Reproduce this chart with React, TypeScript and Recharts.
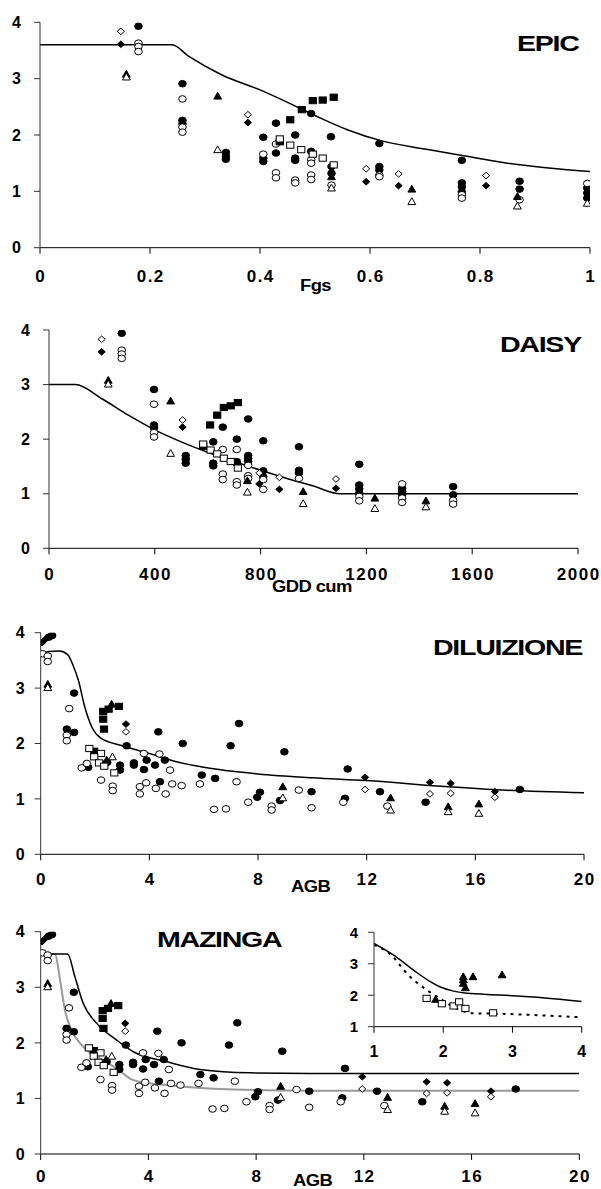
import React from "react";
import { ComposedChart, Scatter, Line, XAxis, YAxis } from "recharts";

type Pt = [number, number];

//========== EPIC (x = Fgs) ==========
const epicFilledCircle: Pt[] = [[0.179,3.93],[0.259,2.91],[0.259,2.26],[0.259,2.2],[0.338,1.69],[0.338,1.62],[0.338,1.57],[0.406,1.96],[0.406,1.59],[0.406,1.53],[0.429,2.21],[0.429,1.68],[0.464,2.0],[0.464,1.59],[0.464,1.55],[0.493,2.38],[0.493,1.71],[0.529,1.97],[0.53,1.44],[0.53,1.32],[0.617,1.85],[0.617,1.44],[0.617,1.38],[0.767,1.55],[0.767,1.15],[0.767,1.08],[0.767,0.99],[0.872,1.18],[0.872,1.04],[0.995,1.06],[0.995,0.97],[0.995,0.88]];
const epicOpenCircle: Pt[] = [[0.179,3.63],[0.179,3.57],[0.179,3.48],[0.259,2.64],[0.259,2.14],[0.259,2.05],[0.406,1.66],[0.429,1.84],[0.429,1.33],[0.429,1.24],[0.464,1.2],[0.464,1.15],[0.493,1.56],[0.493,1.5],[0.493,1.29],[0.493,1.21],[0.53,1.11],[0.617,1.29],[0.617,1.26],[0.767,0.94],[0.767,0.88],[0.872,0.85],[0.995,1.14]];
const epicFilledDiamond: Pt[] = [[0.147,3.61],[0.378,2.22],[0.593,1.17],[0.652,1.1],[0.811,1.1]];
const epicOpenDiamond: Pt[] = [[0.147,3.84],[0.378,2.36],[0.593,1.4],[0.652,1.31],[0.811,1.28]];
const epicFilledTriangle: Pt[] = [[0.157,3.08],[0.323,2.69],[0.53,1.26],[0.676,1.04],[0.868,0.91],[0.995,0.92]];
const epicOpenTriangle: Pt[] = [[0.157,3.03],[0.323,1.74],[0.53,1.06],[0.676,0.82],[0.868,0.74],[0.995,0.79]];
const epicFilledSquare: Pt[] = [[0.455,2.27],[0.436,1.88],[0.476,2.45],[0.496,2.61],[0.514,2.62],[0.534,2.67]];
const epicOpenSquare: Pt[] = [[0.436,1.93],[0.455,1.82],[0.475,1.74],[0.496,1.66],[0.514,1.59],[0.534,1.47]];
const epicCurve: Pt[] = [[0,3.6],[0.24,3.6],[0.27,3.4],[0.33,3.07],[0.4,2.8],[0.45,2.58],[0.51,2.3],[0.56,2.09],[0.62,1.9],[0.7,1.75],[0.77,1.63],[0.85,1.5],[0.92,1.42],[1.0,1.35]];
const epicXTicks = [0, 0.2, 0.4, 0.6, 0.8, 1];

//========== DAISY (x = GDD cum) ==========
const daisyFilledCircle: Pt[] = [[275,3.94],[397,2.91],[397,2.26],[397,2.21],[517,1.7],[517,1.63],[517,1.56],[621,1.95],[621,1.56],[621,1.51],[657,2.22],[710,2.0],[710,1.59],[710,1.55],[753,2.37],[753,1.7],[753,1.64],[753,1.59],[810,1.97],[810,1.42],[810,1.31],[945,1.86],[945,1.43],[945,1.38],[1173,1.54],[1173,1.16],[1173,1.09],[1173,1.01],[1335,1.1],[1335,1.04],[1335,0.98],[1528,1.13],[1528,0.98]];
const daisyOpenCircle: Pt[] = [[275,3.63],[275,3.56],[275,3.48],[397,2.64],[397,2.12],[397,2.04],[657,1.81],[710,1.81],[753,1.52],[657,1.36],[657,1.26],[710,1.22],[710,1.16],[753,1.33],[753,1.28],[810,1.26],[810,1.08],[945,1.28],[1173,0.95],[1173,0.87],[1335,1.18],[1335,0.92],[1335,0.84],[1528,0.88],[1528,0.81]];
const daisyFilledDiamond: Pt[] = [[199,3.6],[505,2.22],[795,1.18],[871,1.08],[1085,1.1]];
const daisyOpenDiamond: Pt[] = [[199,3.83],[505,2.35],[795,1.38],[871,1.3],[1085,1.27]];
const daisyFilledTriangle: Pt[] = [[224,3.08],[460,2.7],[750,1.24],[961,1.04],[1232,0.92],[1425,0.87]];
const daisyOpenTriangle: Pt[] = [[224,3.01],[460,1.74],[750,1.03],[961,0.82],[1232,0.73],[1425,0.76]];
const daisyFilledSquare: Pt[] = [[583,1.87],[609,2.26],[636,2.44],[661,2.58],[687,2.61],[714,2.67]];
const daisyOpenSquare: Pt[] = [[583,1.91],[611,1.8],[636,1.73],[661,1.65],[687,1.59],[714,1.47]];
const daisyCurve: Pt[] = [[0,3.0],[100,3.0],[200,2.74],[300,2.44],[400,2.17],[500,1.95],[600,1.76],[700,1.59],[800,1.43],[900,1.28],[1000,1.14],[1100,1.0],[2000,1.0]];
const daisyXTicks = [0, 400, 800, 1200, 1600, 2000];

//========== AGB data (DILUIZIONE and MAZINGA) ==========
const agbFilledCircle: Pt[] = [[0.3,3.92],[0.42,3.95],[1.23,2.91],[0.96,2.26],[1.23,2.2],[3.16,1.96],[4.33,2.21],[5.23,2.0],[6.99,1.96],[7.3,2.36],[8.97,1.85],[1.75,1.57],[2.45,1.66],[2.92,1.61],[2.92,1.52],[3.43,1.65],[3.43,1.61],[3.8,1.53],[3.9,1.7],[4.21,1.61],[4.57,1.7],[4.39,1.31],[5.93,1.43],[6.42,1.37],[8.07,1.12],[7.97,1.03],[8.81,0.97],[9.97,1.13],[11.3,1.54],[11.2,1.01],[12.49,1.13],[14.17,0.94],[17.64,1.17]];
const agbOpenCircle: Pt[] = [[0.07,3.62],[0.26,3.58],[0.26,3.48],[1.05,2.63],[0.96,2.15],[0.96,2.05],[1.51,1.56],[1.7,1.64],[2.22,1.34],[2.65,1.23],[2.65,1.15],[3.8,1.82],[4.37,1.81],[3.65,1.22],[3.65,1.09],[3.88,1.29],[4.24,1.19],[4.6,1.09],[4.76,1.52],[4.84,1.27],[5.19,1.24],[5.86,1.27],[6.38,0.81],[6.82,0.82],[7.21,1.31],[7.64,0.94],[8.5,0.87],[8.5,0.8],[9.5,1.16],[9.97,0.84],[11.14,0.94],[12.76,0.87]];
const agbFilledDiamond: Pt[] = [[0.05,3.82],[0.15,3.87],[3.14,2.35],[11.94,1.39],[14.33,1.3],[15.09,1.28],[16.72,1.13]];
const agbOpenDiamond: Pt[] = [[3.14,2.21],[11.94,1.17],[14.33,1.09],[15.09,1.1],[16.72,1.03]];
const agbFilledTriangle: Pt[] = [[0.26,3.07],[2.61,2.71],[2.43,1.7],[8.91,1.22],[12.88,1.02],[15.0,0.86],[16.13,0.91]];
const agbOpenTriangle: Pt[] = [[0.26,3.01],[2.64,1.76],[8.91,1.02],[12.88,0.8],[15.0,0.77],[16.13,0.74]];
const agbFilledSquare: Pt[] = [[2.33,2.26],[1.97,1.86],[2.3,2.44],[2.3,2.58],[2.5,2.62],[2.88,2.67]];
const agbOpenSquare: Pt[] = [[1.79,1.91],[2.22,1.82],[1.97,1.76],[2.15,1.65],[2.34,1.59],[2.71,1.47]];
const agbXTicks = [0, 4, 8, 12, 16, 20];

const diluizioneCurve: Pt[] = [[0,3.62],[0.3,3.66],[0.7,3.67],[1.0,3.6],[1.2,3.4],[1.4,3.12],[1.6,2.7],[1.9,2.28],[2.2,2.1],[3,1.96],[4,1.82],[5,1.67],[6,1.57],[8,1.45],[10,1.38],[12,1.33],[15,1.22],[17,1.16],[20,1.11]];
const mazingaBlack: Pt[] = [[0,3.6],[1.0,3.6],[1.27,3.19],[1.58,2.71],[2.08,2.35],[2.82,2.05],[3.44,1.84],[4.68,1.66],[5.92,1.52],[7.77,1.46],[10,1.45],[20,1.45]];
const mazingaGray: Pt[] = [[0,3.6],[0.53,3.6],[0.72,3.13],[0.9,2.59],[1.15,2.23],[1.58,1.93],[2.2,1.72],[2.82,1.54],[3.44,1.33],[4.68,1.24],[7.15,1.16],[10,1.14],[20,1.14]];

//========== Inset ==========
const insetTriangle: Pt[] = [[2.29,2.59],[2.29,2.49],[2.29,2.38],[2.32,2.24],[2.43,2.59],[2.85,2.65],[1.89,1.87]];
const insetSquare: Pt[] = [[1.76,1.9],[1.98,1.73],[2.15,1.66],[2.23,1.79],[2.32,1.58],[2.72,1.44]];
const insetSolid: Pt[] = [[1,3.65],[1.28,3.28],[1.57,2.8],[1.8,2.45],[1.95,2.27],[2.15,2.13],[2.34,2.06],[2.82,2.01],[3.3,1.94],[4,1.8]];
const insetDashed: Pt[] = [[1,3.6],[1.21,3.35],[1.52,2.59],[1.76,2.17],[1.95,1.9],[2.19,1.58],[2.43,1.43],[2.82,1.41],[4,1.3]];
const insetXTicks = [1, 2, 3, 4];
const insetYTicks = [1, 2, 3, 4];

const yTicks = [0, 1, 2, 3, 4];
const FONT = "'Liberation Sans', Arial, sans-serif";

const toXY = (a: Pt[]) => a.map(([x, y]) => ({ x, y }));

//========== Markers ==========
const marker = (kind: string, filled: boolean) => (p: any) => {
  const { cx, cy } = p;
  if (cx == null || cy == null) return <g />;
  const fill = filled ? "#000" : "#fff";
  if (kind === "circle")
    return <ellipse cx={cx} cy={cy} rx={3.8} ry={3.3} fill={fill} stroke="#000" strokeWidth={1} />;
  if (kind === "diamond")
    return <polygon points={`${cx},${cy - 3.3} ${cx + 3.6},${cy} ${cx},${cy + 3.3} ${cx - 3.6},${cy}`} fill={fill} stroke="#000" strokeWidth={1} />;
  if (kind === "triangle")
    return <polygon points={`${cx},${cy - 3.8} ${cx + 3.9},${cy + 3} ${cx - 3.9},${cy + 3}`} fill={fill} stroke="#000" strokeWidth={1} />;
  return <rect x={cx - 3.6} y={cy - 3.1} width={7.2} height={6.2} fill={fill} stroke="#000" strokeWidth={1} />;
};

interface SeriesSet {
  fc: Pt[]; oc: Pt[]; fd: Pt[]; od: Pt[]; ft: Pt[]; ot: Pt[]; fs: Pt[]; os: Pt[];
}

interface Curve { pts: Pt[]; color: string; width: number; dash?: string }

interface PanelProps {
  top: number; left: number; width: number; height: number;
  margin: { top: number; right: number; bottom: number; left: number };
  xDomain: [number, number]; xTicks: number[];
  yDomain: [number, number]; yTicks: number[];
  series?: SeriesSet; extra?: { pts: Pt[]; kind: string; filled: boolean }[];
  curves: Curve[];
  xDy: number; yGap: number; tickFs: number;
}

//========== Panel ==========
const Panel: React.FC<PanelProps> = (p) => {
  const xTick = (t: any) => (
    <text x={t.x + 0.75} y={t.y + p.xDy} textAnchor="middle" fontFamily={FONT} fontWeight="bold"
      fontSize={p.tickFs + 1} letterSpacing={1.5} fill="#000">{t.payload.value}</text>
  );
  const yTick = (t: any) => (
    <text x={t.x} y={t.y + p.tickFs * 0.36} textAnchor="end" fontFamily={FONT} fontWeight="bold"
      fontSize={p.tickFs} fill="#000">{t.payload.value}</text>
  );
  const s = p.series;
  const groups = s
    ? [
        { d: s.fc, k: "circle", f: true }, { d: s.oc, k: "circle", f: false },
        { d: s.fd, k: "diamond", f: true }, { d: s.od, k: "diamond", f: false },
        { d: s.ft, k: "triangle", f: true }, { d: s.ot, k: "triangle", f: false },
        { d: s.fs, k: "square", f: true }, { d: s.os, k: "square", f: false },
      ]
    : [];
  const extras = (p.extra || []).map((e) => ({ d: e.pts, k: e.kind, f: e.filled }));
  return (
    <div style={{ position: "absolute", top: p.top, left: p.left }}>
      <ComposedChart width={p.width} height={p.height} margin={p.margin}>
        <XAxis type="number" dataKey="x" domain={p.xDomain} ticks={p.xTicks} interval={0}
          axisLine={{ stroke: "#000" }} tickLine={{ stroke: "#000" }} tickSize={6} tickMargin={2}
          height={30} tick={xTick} allowDataOverflow />
        <YAxis type="number" dataKey="y" domain={p.yDomain} ticks={p.yTicks} interval={0}
          axisLine={{ stroke: "#333" }} tickLine={{ stroke: "#333" }} tickSize={6} tickMargin={p.yGap - 6}
          width={30} tick={yTick} allowDataOverflow />
        {p.curves.map((c, i) => (
          <Line key={"c" + i} data={toXY(c.pts)} dataKey="y" type="monotone" stroke={c.color}
            strokeWidth={c.width} strokeDasharray={c.dash} dot={false} isAnimationActive={false} />
        ))}
        {[...groups, ...extras].map((g, i) => (
          <Scatter key={"s" + i} data={toXY(g.d)} shape={marker(g.k, g.f)} isAnimationActive={false} />
        ))}
      </ComposedChart>
    </div>
  );
};

const titleStyle = (top: number, left: number): React.CSSProperties => ({
  position: "absolute", top, left, fontFamily: FONT, fontWeight: "bold", fontSize: 22,
  lineHeight: "22px", letterSpacing: -1, transform: "scaleX(1.3)", transformOrigin: "left top",
  color: "#000", whiteSpace: "nowrap",
});
const axisTitleStyle = (top: number, left: number): React.CSSProperties => ({
  position: "absolute", top, left, fontFamily: FONT, fontWeight: "bold", fontSize: 16,
  lineHeight: "16px", letterSpacing: -0.5, transform: "scaleX(1.15)", transformOrigin: "left top",
  color: "#000", whiteSpace: "nowrap",
});

//========== App ==========
const App: React.FC = () => {
  const epic: SeriesSet = { fc: epicFilledCircle, oc: epicOpenCircle, fd: epicFilledDiamond, od: epicOpenDiamond, ft: epicFilledTriangle, ot: epicOpenTriangle, fs: epicFilledSquare, os: epicOpenSquare };
  const daisy: SeriesSet = { fc: daisyFilledCircle, oc: daisyOpenCircle, fd: daisyFilledDiamond, od: daisyOpenDiamond, ft: daisyFilledTriangle, ot: daisyOpenTriangle, fs: daisyFilledSquare, os: daisyOpenSquare };
  const agb: SeriesSet = { fc: agbFilledCircle, oc: agbOpenCircle, fd: agbFilledDiamond, od: agbOpenDiamond, ft: agbFilledTriangle, ot: agbOpenTriangle, fs: agbFilledSquare, os: agbOpenSquare };

  return (
    <div style={{ position: "absolute", top: 0, left: 0, width: 601, height: 1189, background: "#fff", overflow: "hidden" }}>
      <Panel top={0} left={0} width={601} height={290}
        margin={{ top: 22.3, right: 11, bottom: 12.3, left: 10 }}
        xDomain={[0, 1]} xTicks={epicXTicks} yDomain={[0, 4]} yTicks={yTicks}
        series={epic} curves={[{ pts: epicCurve, color: "#000", width: 1.5 }]}
        xDy={26} yGap={19} tickFs={16} />
      <Panel top={290} left={0} width={601} height={300}
        margin={{ top: 40, right: 23, bottom: 11.7, left: 19 }}
        xDomain={[0, 2000]} xTicks={daisyXTicks} yDomain={[0, 4]} yTicks={yTicks}
        series={daisy} curves={[{ pts: daisyCurve, color: "#000", width: 1.5 }]}
        xDy={24} yGap={19} tickFs={16} />
      <Panel top={590} left={0} width={601} height={300}
        margin={{ top: 42.7, right: 17, bottom: 5.7, left: 10.7 }}
        xDomain={[0, 20]} xTicks={agbXTicks} yDomain={[0, 4]} yTicks={yTicks}
        series={agb} curves={[{ pts: diluizioneCurve, color: "#000", width: 1.5 }]}
        xDy={23} yGap={16} tickFs={16} />
      <Panel top={890} left={0} width={601} height={299}
        margin={{ top: 41.7, right: 21.7, bottom: 5, left: 10.7 }}
        xDomain={[0, 20]} xTicks={agbXTicks} yDomain={[0, 4]} yTicks={yTicks}
        series={agb}
        curves={[{ pts: mazingaGray, color: "#999", width: 2 }, { pts: mazingaBlack, color: "#000", width: 1.5 }]}
        xDy={20} yGap={16} tickFs={16} />
      <Panel top={910} left={330} width={271} height={150}
        margin={{ top: 22.3, right: 19.3, bottom: 3.3, left: 14 }}
        xDomain={[1, 4]} xTicks={insetXTicks} yDomain={[1, 4]} yTicks={insetYTicks}
        extra={[{ pts: insetTriangle, kind: "triangle", filled: true }, { pts: insetSquare, kind: "square", filled: false }]}
        curves={[{ pts: insetSolid, color: "#000", width: 1.5 }, { pts: insetDashed, color: "#000", width: 2, dash: "3 5" }]}
        xDy={22} yGap={16} tickFs={15} />

      <div style={titleStyle(33.4, 517)}>EPIC</div>
      <div style={titleStyle(334.4, 500)}>DAISY</div>
      <div style={titleStyle(637.4, 433)}>DILUIZIONE</div>
      <div style={titleStyle(929.4, 157)}>MAZINGA</div>

      <div style={axisTitleStyle(277.5, 300)}>Fgs</div>
      <div style={axisTitleStyle(578.5, 272)}>GDD cum</div>
      <div style={axisTitleStyle(878.5, 291)}>AGB</div>
      <div style={axisTitleStyle(1173, 293)}>AGB</div>
    </div>
  );
};

export default App;
